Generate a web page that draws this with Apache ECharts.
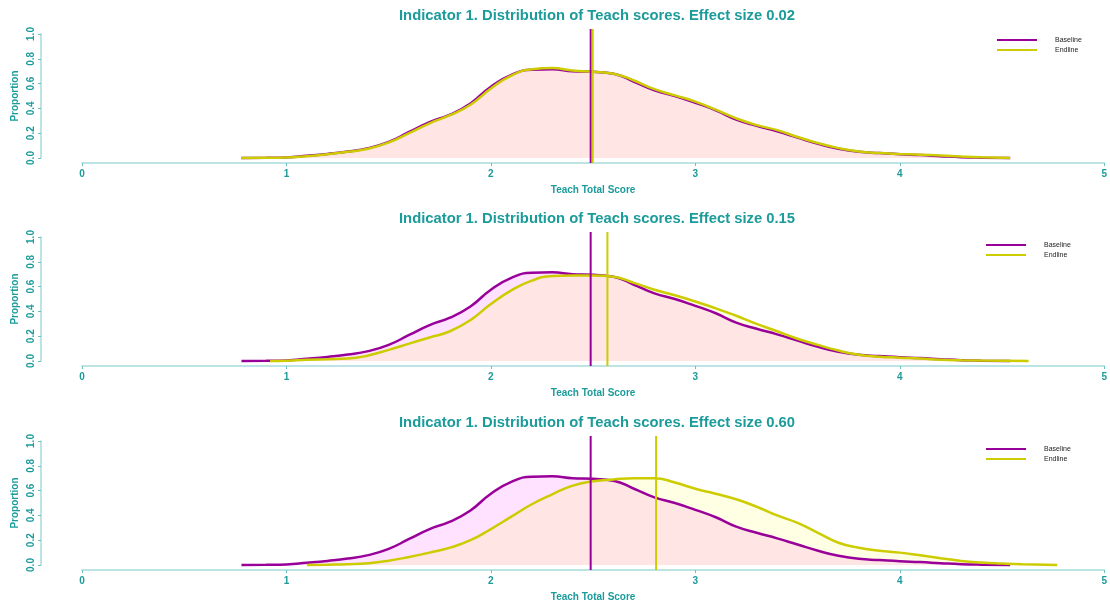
<!DOCTYPE html>
<html><head><meta charset="utf-8">
<script src="https://cdn.jsdelivr.net/npm/echarts@6/dist/echarts.min.js"></script>
<style>html,body{margin:0;padding:0;background:#fff}#c{width:1110px;height:603px}</style>
</head><body><div id="c"></div>
<script>
// ---- data ----
const effectSizes = ['0.02', '0.15', '0.60'];
const xTicks = [0, 1, 2, 3, 4, 5];
const yTicks = [0, 0.2, 0.4, 0.6, 0.8, 1.0];

const baselineX = [0.78,0.9,1.0,1.1,1.2,1.3,1.4,1.5,1.6,1.7,1.8,1.9,2.0,2.1,2.2,2.3,2.4,2.5,2.6,2.7,2.8,2.9,3.0,3.1,3.2,3.3,3.4,3.5,3.6,3.7,3.8,3.9,4.0,4.1,4.2,4.3,4.4,4.54];
const baselineY = [0,0.002,0.005,0.018,0.033,0.052,0.08,0.13,0.21,0.29,0.35,0.44,0.575,0.67,0.712,0.715,0.70,0.695,0.68,0.615,0.545,0.50,0.445,0.385,0.31,0.26,0.215,0.165,0.115,0.075,0.05,0.04,0.03,0.024,0.015,0.007,0.003,0];

const endline1X = [0.78,0.9,1.0,1.1,1.2,1.3,1.4,1.5,1.6,1.7,1.8,1.9,2.0,2.1,2.2,2.3,2.4,2.5,2.6,2.7,2.8,2.9,3.0,3.1,3.2,3.3,3.4,3.5,3.6,3.7,3.8,3.9,4.0,4.1,4.2,4.3,4.4,4.54];
const endline1Y = [0,0.002,0.004,0.015,0.03,0.05,0.075,0.125,0.2,0.28,0.345,0.43,0.56,0.665,0.715,0.725,0.705,0.695,0.68,0.625,0.555,0.505,0.455,0.39,0.32,0.265,0.225,0.17,0.12,0.08,0.052,0.04,0.033,0.027,0.02,0.012,0.006,0];

const endline2X = [0.92,1.0,1.1,1.2,1.3,1.4,1.5,1.6,1.7,1.8,1.9,2.0,2.1,2.2,2.3,2.4,2.5,2.6,2.7,2.8,2.9,3.0,3.1,3.2,3.3,3.4,3.5,3.6,3.7,3.8,3.9,4.0,4.1,4.2,4.3,4.4,4.63];
const endline2Y = [0,0.003,0.01,0.015,0.02,0.045,0.09,0.14,0.19,0.24,0.33,0.46,0.57,0.648,0.685,0.69,0.69,0.68,0.63,0.575,0.53,0.48,0.425,0.365,0.30,0.24,0.18,0.13,0.085,0.05,0.035,0.027,0.02,0.01,0.006,0.004,0];

const endline3X = [1.1,1.2,1.3,1.4,1.5,1.6,1.7,1.8,1.9,2.0,2.1,2.2,2.3,2.4,2.5,2.6,2.7,2.8,2.9,3.0,3.1,3.2,3.3,3.4,3.5,3.6,3.7,3.8,3.9,4.0,4.1,4.2,4.3,4.4,4.5,4.6,4.77];
const endline3Y = [0,0.003,0.007,0.015,0.035,0.065,0.10,0.14,0.20,0.29,0.39,0.49,0.57,0.64,0.675,0.69,0.70,0.70,0.665,0.615,0.575,0.53,0.47,0.40,0.34,0.26,0.18,0.14,0.115,0.10,0.078,0.055,0.033,0.02,0.012,0.006,0];

const baselineMean = 2.488;
const endlineMeans = [2.498, 2.57, 2.808];

// ---- chart ----
const endX = [endline1X, endline2X, endline3X];
const endY = [endline1Y, endline2Y, endline3Y];
const zip = (xs, ys) => xs.map((x, i) => [x, ys[i]]);

const TEAL = '#1c9b9b';
const AXIS_LINE = '#a6dbdb';
const FONT = '"Liberation Sans", Arial, sans-serif';
const panelTop = [29, 232, 436];
const legendPos = [[997, 36], [986, 241], [986, 445]];

const grid = [], xAxis = [], yAxis = [], series = [], title = [], legend = [];

panelTop.forEach((T, p) => {
  const gA = 2 * p, gB = 2 * p + 1;
  grid.push({ left: 82, right: 5, top: T, height: 134 });
  grid.push({ left: 41, width: 1, top: T + 5, height: 124 });
  xAxis.push({
    type: 'value', gridIndex: gA, min: xTicks[0], max: xTicks[xTicks.length - 1], interval: 1,
    axisLine: { show: true, onZero: false, lineStyle: { color: AXIS_LINE, width: 1.5 } },
    axisTick: { show: true, length: 3, lineStyle: { color: '#6cc0c0' } },
    axisLabel: { color: TEAL, fontSize: 10, fontWeight: 'bold', margin: 6, fontFamily: FONT },
    splitLine: { show: false },
    name: 'Teach Total Score', nameLocation: 'middle', nameGap: 22,
    nameTextStyle: { color: TEAL, fontSize: 10, fontWeight: 'bold', fontFamily: FONT }
  });
  xAxis.push({ type: 'value', gridIndex: gB, show: false, min: 0, max: 1 });
  yAxis.push({ type: 'value', gridIndex: gA, min: -0.04, max: 1.04, show: false });
  yAxis.push({
    type: 'value', gridIndex: gB, min: yTicks[0], max: yTicks[yTicks.length - 1], interval: 0.2,
    axisLine: { show: true, onZero: false, lineStyle: { color: AXIS_LINE, width: 1.5 } },
    axisTick: { show: true, length: 3, lineStyle: { color: '#6cc0c0' } },
    axisLabel: { color: TEAL, fontSize: 10, fontWeight: 'bold', rotate: 90, margin: 5, fontFamily: FONT,
      formatter: v => v.toFixed(1) },
    splitLine: { show: false },
    name: 'Proportion', nameLocation: 'middle', nameGap: 21,
    nameTextStyle: { color: TEAL, fontSize: 10, fontWeight: 'bold', fontFamily: FONT }
  });
  title.push({
    text: 'Indicator 1. Distribution of Teach scores. Effect size ' + effectSizes[p],
    left: 399, top: T - 21, padding: 0,
    textStyle: { color: TEAL, fontSize: 14.8, fontWeight: 'bold', fontFamily: FONT }
  });
  legend.push({
    data: ['Baseline', 'Endline'], orient: 'vertical', left: legendPos[p][0], top: legendPos[p][1],
    icon: 'rect', itemWidth: 40, itemHeight: 2.2, itemGap: 2, selectedMode: false, padding: 0,
    textStyle: { fontSize: 7, color: '#222', fontFamily: FONT, padding: [0, 0, 0, 13], lineHeight: 8 }
  });
  series.push({
    name: 'Baseline', type: 'line', xAxisIndex: gA, yAxisIndex: gA,
    data: zip(baselineX, baselineY), showSymbol: false, symbol: 'none', smooth: 0.5,
    itemStyle: { color: '#990099' }, lineStyle: { color: '#990099', width: 2.5 },
    areaStyle: { color: 'rgba(255,0,255,0.16)', origin: 0 }, z: 2
  });
  series.push({
    name: 'Endline', type: 'line', xAxisIndex: gA, yAxisIndex: gA,
    data: zip(endX[p], endY[p]), showSymbol: false, symbol: 'none', smooth: 0.5,
    itemStyle: { color: '#cccc00' }, lineStyle: { color: '#cccc00', width: 2.5 },
    areaStyle: { color: 'rgba(255,255,0,0.153)', origin: 0 }, z: 2
  });
  series.push({
    name: 'Baseline mean', type: 'line', xAxisIndex: gA, yAxisIndex: gA,
    data: [[baselineMean, -0.04], [baselineMean, 1.04]], symbol: 'none',
    lineStyle: { color: '#990099', width: 2 }, z: 3
  });
  series.push({
    name: 'Endline mean', type: 'line', xAxisIndex: gA, yAxisIndex: gA,
    data: [[endlineMeans[p], -0.04], [endlineMeans[p], 1.04]], symbol: 'none',
    lineStyle: { color: '#cccc00', width: 2 }, z: 3
  });
});

const chart = echarts.init(document.getElementById('c'), null, { renderer: 'canvas' });
chart.setOption({ animation: false, backgroundColor: '#fff', title, legend, grid, xAxis, yAxis, series });
</script></body></html>
